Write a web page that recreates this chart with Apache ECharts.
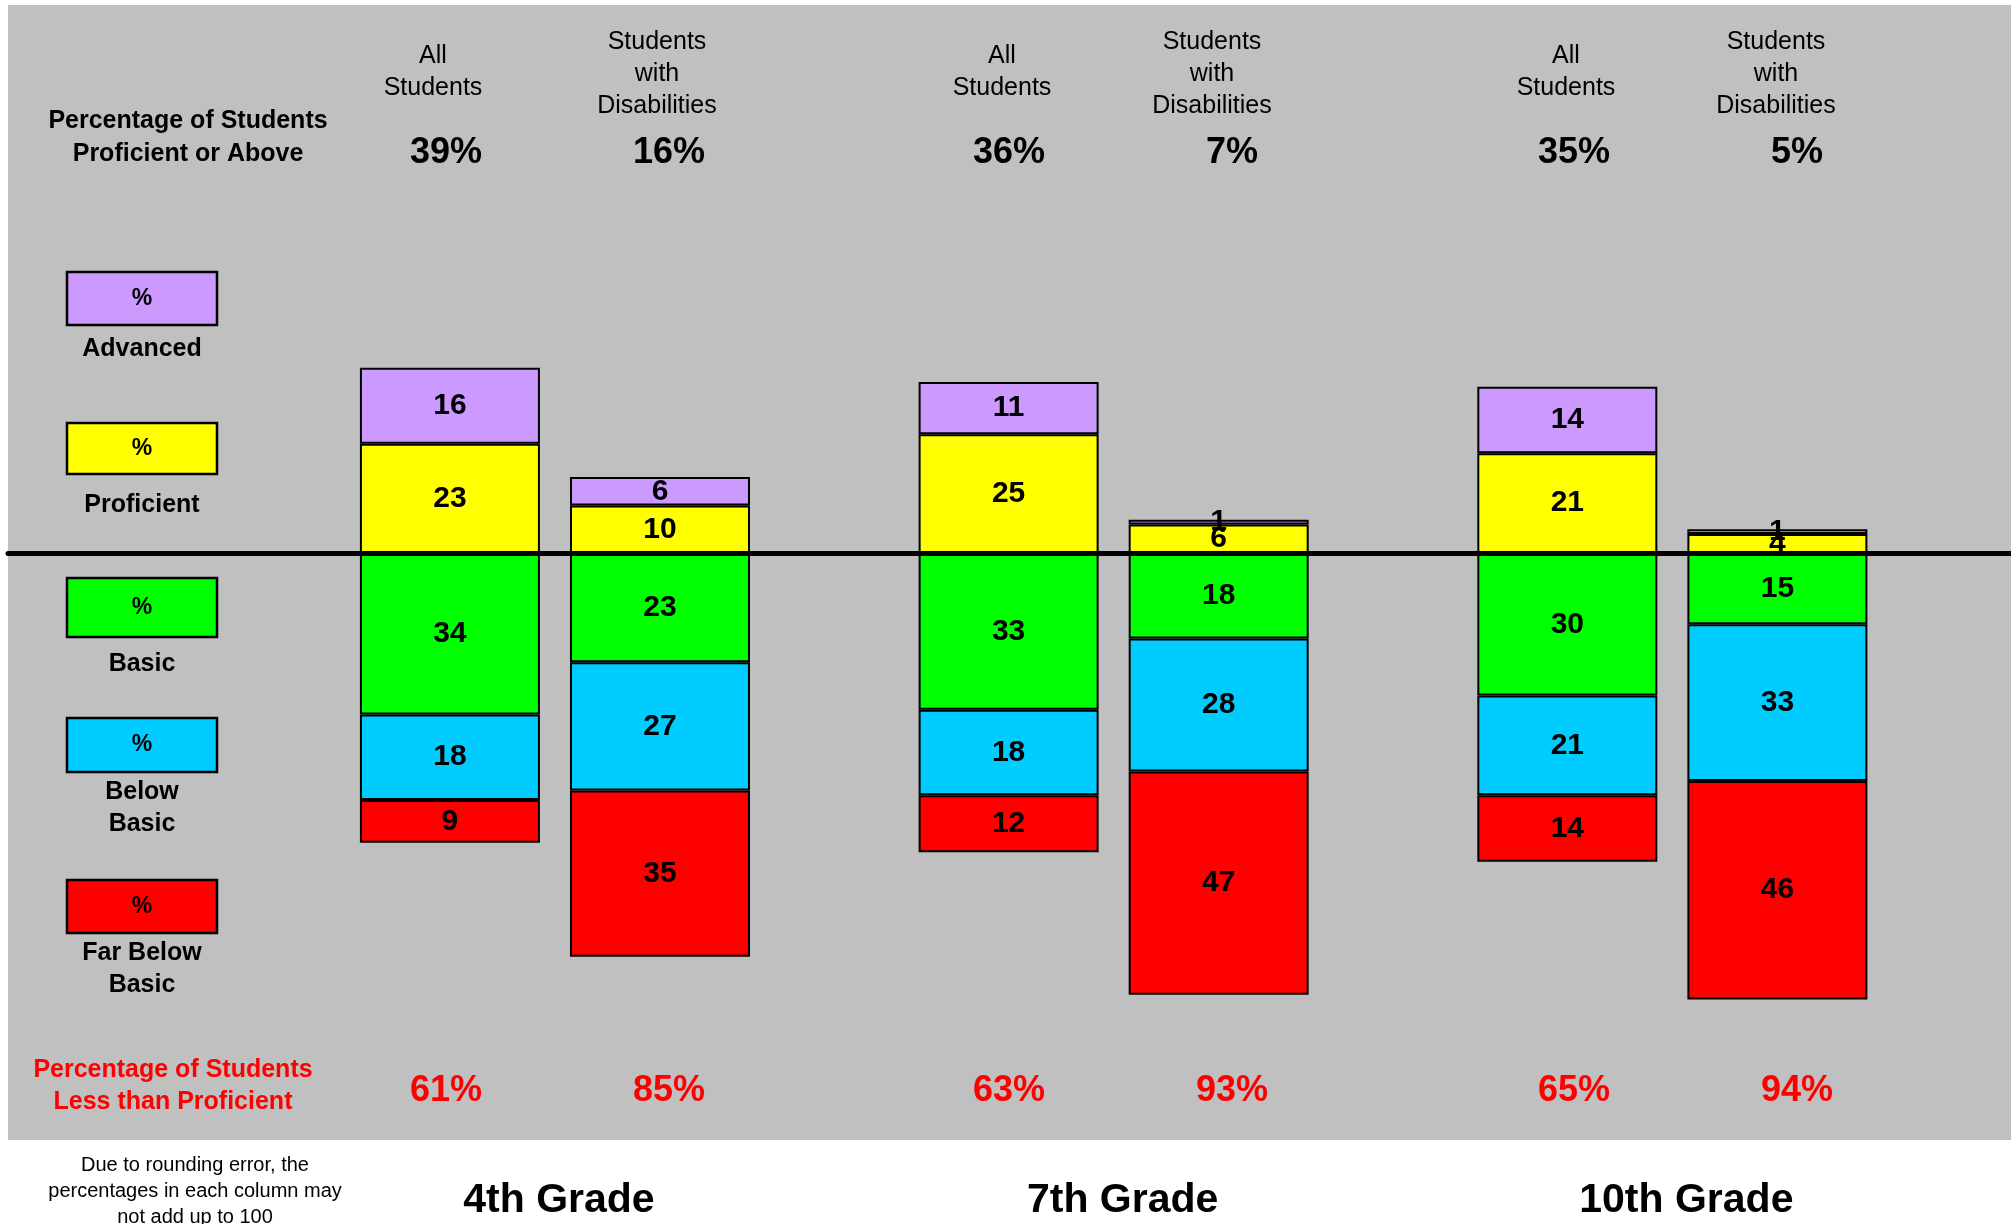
<!DOCTYPE html>
<html><head><meta charset="utf-8">
<script src="https://cdn.jsdelivr.net/npm/echarts@6/dist/echarts.min.js"></script>
<style>html,body{margin:0;padding:0;background:#fff}#c{width:2011px;height:1224px}</style>
</head><body><div id="c"></div>
<script>
const FONT = "'Liberation Sans', Arial, sans-serif";

// ---- data ----
const grades = ['4th Grade', '7th Grade', '10th Grade'];
const groupHeaders = ['All\nStudents', 'Students\nwith\nDisabilities'];
const levelNames = ['Advanced', 'Proficient', 'Basic', 'Below\nBasic', 'Far Below\nBasic'];
const levelColors = ['#CC99FF', '#FFFF00', '#00FF00', '#00CCFF', '#FF0000'];

// All Students, per grade
const allAdvanced = [16, 11, 14];
const allProficient = [23, 25, 21];
const allBasic = [34, 33, 30];
const allBelowBasic = [18, 18, 21];
const allFarBelowBasic = [9, 12, 14];
// Students with Disabilities, per grade
const swdAdvanced = [6, 1, 1];
const swdProficient = [10, 6, 4];
const swdBasic = [23, 18, 15];
const swdBelowBasic = [27, 28, 33];
const swdFarBelowBasic = [35, 47, 46];

// summary percentages (4th All, 4th SWD, 7th All, 7th SWD, 10th All, 10th SWD)
const proficientOrAbove = [39, 16, 36, 7, 35, 5];
const lessThanProficient = [61, 85, 63, 93, 65, 94];

// ---- layout ----
const Y_MIN = -123.6, Y_MAX = 115.4;
const colX = [446, 669, 1009, 1232, 1574, 1797];
const headerX = [433, 657, 1002, 1212, 1566, 1776];

function barSeries(name, stack, values, color, sign) {
  return {
    name: name, type: 'bar', stack: stack, xAxisIndex: 0, yAxisIndex: 0,
    data: values.map(v => sign * v),
    barWidth: 180, barGap: '16.7%',
    itemStyle: { color: color, borderColor: '#000', borderWidth: 2 },
    label: {
      show: true, position: 'inside', color: '#000', fontFamily: FONT,
      fontWeight: 'bold', fontSize: 30,
      formatter: p => String(Math.abs(p.value))
    },
    emphasis: { disabled: true }
  };
}

const series = [
  barSeries('Proficient', 'all', allProficient, levelColors[1], 1),
  barSeries('Advanced', 'all', allAdvanced, levelColors[0], 1),
  barSeries('Basic', 'all', allBasic, levelColors[2], -1),
  barSeries('Below Basic', 'all', allBelowBasic, levelColors[3], -1),
  barSeries('Far Below Basic', 'all', allFarBelowBasic, levelColors[4], -1),
  barSeries('Proficient', 'swd', swdProficient, levelColors[1], 1),
  barSeries('Advanced', 'swd', swdAdvanced, levelColors[0], 1),
  barSeries('Basic', 'swd', swdBasic, levelColors[2], -1),
  barSeries('Below Basic', 'swd', swdBelowBasic, levelColors[3], -1),
  barSeries('Far Below Basic', 'swd', swdFarBelowBasic, levelColors[4], -1)
];

function txt(text, x, y, size, weight, color, lh) {
  return {
    type: 'text', x: x, y: y, z: 20,
    style: {
      text: text, fill: color || '#000', fontFamily: FONT, fontSize: size,
      fontWeight: weight || 'normal', align: 'center', verticalAlign: 'middle',
      textAlign: 'center', textVerticalAlign: 'middle', lineHeight: lh || size * 1.25
    }
  };
}

const graphics = [];
// left headers
graphics.push(txt('Percentage of Students\nProficient or Above', 188, 137.5, 25, 'bold', '#000', 33));
graphics.push(txt('Percentage of Students\nLess than Proficient', 173, 1086.5, 25, 'bold', '#FF0000', 32));
graphics.push(txt('Due to rounding error, the\npercentages in each column may\nnot add up to 100', 195, 1191.5, 20, 'normal', '#000', 26));
// column headers and percentages
for (let i = 0; i < 6; i++) {
  const isAll = i % 2 === 0;
  graphics.push(txt(groupHeaders[isAll ? 0 : 1], headerX[i], isAll ? 72 : 74, 25, 'normal', '#000', 32));
  graphics.push(txt(proficientOrAbove[i] + '%', colX[i], 153.5, 36, 'bold', '#000', 40));
  graphics.push(txt(lessThanProficient[i] + '%', colX[i], 1091, 36, 'bold', '#FF0000', 40));
}
// legend boxes
const legendBoxes = [[272, 53], [423, 51], [578, 59], [718, 54], [880, 53]];
const legendLabelY = [348, 504, 663, 807, 968];
for (let i = 0; i < 5; i++) {
  const [by, bh] = legendBoxes[i];
  graphics.push({
    type: 'rect', z: 20,
    shape: { x: 67, y: by, width: 150, height: bh },
    style: { fill: levelColors[i], stroke: '#000', lineWidth: 2.5 }
  });
  graphics.push(txt('%', 142, by + bh / 2, 23, 'bold', '#000', 26));
  graphics.push(txt(levelNames[i], 142, legendLabelY[i] + 1, 25, 'bold', '#000', 32));
}

const option = {
  backgroundColor: '#ffffff',
  animation: false,
  grid: [
    { left: 275.6, right: 59.3, top: 5, bottom: 84, show: false },
    { left: 8, right: 0, top: 5, bottom: 84, show: true, backgroundColor: '#C0C0C0', borderWidth: 0 }
  ],
  xAxis: [
    {
      type: 'category', gridIndex: 0, data: grades,
      axisLine: { show: false, onZero: false }, axisTick: { show: false }, splitLine: { show: false },
      axisLabel: {
        color: '#000', fontFamily: FONT, fontWeight: 'bold', fontSize: 41, margin: 40, lineHeight: 41,
        formatter: (v, i) => '{g' + i + '|' + v + '}',
        rich: {
          g0: { fontFamily: FONT, fontWeight: 'bold', fontSize: 41, padding: [0, 0, 0, 8] },
          g1: { fontFamily: FONT, fontWeight: 'bold', fontSize: 41, padding: [0, 0, 0, 18] },
          g2: { fontFamily: FONT, fontWeight: 'bold', fontSize: 41, padding: [0, 0, 0, 28] }
        }
      }
    },
    {
      type: 'value', gridIndex: 1, min: 0, max: 1, z: 10,
      axisLine: { show: true, onZero: true, lineStyle: { color: '#000', width: 5 } },
      axisTick: { show: false }, axisLabel: { show: false }, splitLine: { show: false }
    }
  ],
  yAxis: [
    { type: 'value', gridIndex: 0, min: Y_MIN, max: Y_MAX, show: false, splitLine: { show: false } },
    { type: 'value', gridIndex: 1, min: Y_MIN, max: Y_MAX, show: false, splitLine: { show: false } }
  ],
  series: series,
  graphic: graphics
};

const chart = echarts.init(document.getElementById('c'));
chart.setOption(option);
</script>
</body></html>
